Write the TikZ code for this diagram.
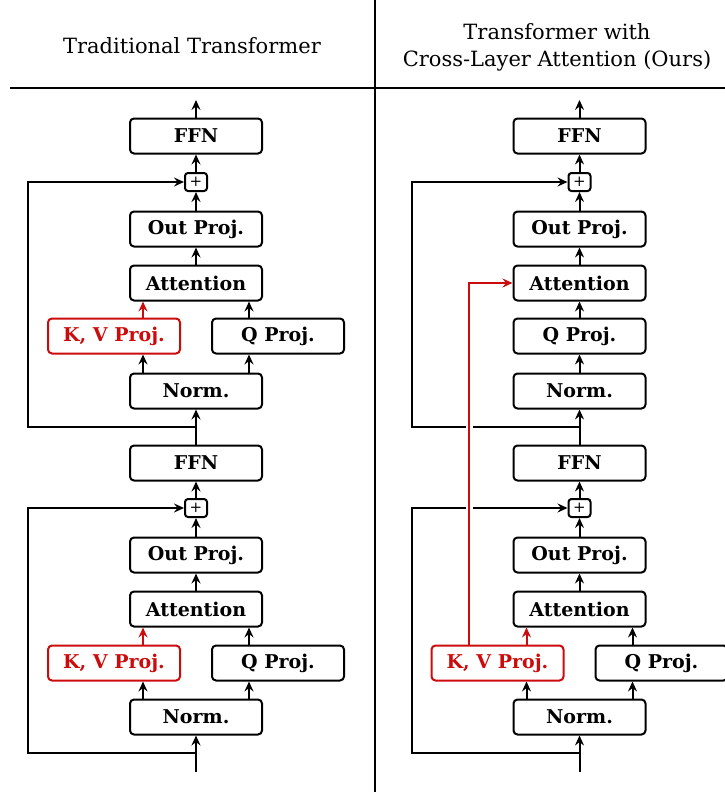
\documentclass[tikz,border=0pt]{standalone}
\usepackage{fontspec}
\setmainfont{DejaVu Serif}
\usetikzlibrary{arrows.meta,positioning,calc}
\definecolor{kvred}{RGB}{204,12,12}

\tikzset{
  blk/.style={draw, line width=2pt, rounded corners=4pt, minimum width=132pt,
    minimum height=35pt, inner sep=0pt, font=\fontsize{19}{20}\selectfont\bfseries},
  kvblk/.style={blk, draw=kvred, text=kvred},
  addbox/.style={draw, line width=2pt, rounded corners=3pt, minimum width=22pt,
    minimum height=18pt, inner sep=0pt, font=\fontsize{15}{15}\selectfont},
  flow/.style={line width=2pt, -{Stealth[length=10pt,width=9pt,inset=3.5pt]}},
  halo/.style={preaction={draw=white, line width=7pt, -, shorten <=3pt, shorten >=12pt}},
  title/.style={font=\fontsize{21}{27}\selectfont, align=center},
}

\begin{document}
\begin{tikzpicture}[x=1pt,y=-1pt]
\clip (0,0) rectangle (725,792);

% headers
\node[title] (headA) at (192,46) {Traditional Transformer};
\node[title] (headB) at (557,47) {Transformer with\\Cross-Layer Attention (Ours)};
\draw[line width=1.3pt] (375,0) -- (375,792);
\draw[line width=1.3pt] (10,88) -- (725,88);

%% left: traditional transformer
\node[blk] (ffnA) at (196,136) {FFN};
\node[addbox] (addA) at (196,182) {+};
\node[blk] (outA) at (196,229) {Out Proj.};
\node[blk] (attA) at (196,283) {Attention};
\node[kvblk] (kvA) at (114,336) {K, V Proj.};
\node[blk] (qA) at (278,336) {Q Proj.};
\node[blk] (normA) at (196,391) {Norm.};

\node[blk] (ffnB) at (196,463) {FFN};
\node[addbox] (addB) at (196,508) {+};
\node[blk] (outB) at (196,555) {Out Proj.};
\node[blk] (attB) at (196,609) {Attention};
\node[kvblk] (kvB) at (114,663) {K, V Proj.};
\node[blk] (qB) at (278,663) {Q Proj.};
\node[blk] (normB) at (196,717) {Norm.};

\coordinate (topA) at (196,100);
\coordinate (inA) at (196,772);
\coordinate (sideA) at (28,0);
\coordinate (lA) at ([xshift=-53pt]attA.south);
\coordinate (rA) at ([xshift=53pt]attA.south);
\coordinate (lB) at ([xshift=-53pt]attB.south);
\coordinate (rB) at ([xshift=53pt]attB.south);
\coordinate (jA) at ($(ffnB.north)!.5!(normA.south)$);
\coordinate (jB) at (196,753);

\draw[flow] (ffnA) -- (topA);
\draw[flow] (addA) -- (ffnA);
\draw[flow] (outA) -- (addA);
\draw[flow] (attA) -- (outA);
\draw[flow,kvred] (kvA.north -| lA) -- (lA);
\draw[flow] (qA.north -| rA) -- (rA);
\draw[flow] (normA.north -| lA) -- (kvA.south -| lA);
\draw[flow] (normA.north -| rA) -- (qA.south -| rA);
\draw[flow] (ffnB) -- (normA);
\draw[flow] (jA) -- (jA -| sideA) -- (addA.west -| sideA) -- (addA.west);

\draw[flow] (addB) -- (ffnB);
\draw[flow] (outB) -- (addB);
\draw[flow] (attB) -- (outB);
\draw[flow,kvred] (kvB.north -| lB) -- (lB);
\draw[flow] (qB.north -| rB) -- (rB);
\draw[flow] (normB.north -| lB) -- (kvB.south -| lB);
\draw[flow] (normB.north -| rB) -- (qB.south -| rB);
\draw[flow] (inA) -- (normB);
\draw[flow] (jB) -- (jB -| sideA) -- (addB.west -| sideA) -- (addB.west);

%% right: cross-layer attention
\node[blk] (ffnC) at (579.5,136) {FFN};
\node[addbox] (addC) at (579.5,182) {+};
\node[blk] (outC) at (579.5,229) {Out Proj.};
\node[blk] (attC) at (579.5,283) {Attention};
\node[blk] (qC) at (579.5,336) {Q Proj.};
\node[blk] (normC) at (579.5,391) {Norm.};

\node[blk] (ffnD) at (579.5,463) {FFN};
\node[addbox] (addD) at (579.5,508) {+};
\node[blk] (outD) at (579.5,555) {Out Proj.};
\node[blk] (attD) at (579.5,609) {Attention};
\node[kvblk] (kvD) at (497.5,663) {K, V Proj.};
\node[blk] (qD) at (661.5,663) {Q Proj.};
\node[blk] (normD) at (579.5,717) {Norm.};

\coordinate (topC) at (579.5,100);
\coordinate (inC) at (579.5,772);
\coordinate (sideC) at (411.5,0);
\coordinate (crossC) at (469,0);
\coordinate (lD) at ([xshift=-53pt]attD.south);
\coordinate (rD) at ([xshift=53pt]attD.south);
\coordinate (jC) at ($(ffnD.north)!.5!(normC.south)$);
\coordinate (jD) at (579.5,753);

\draw[flow] (ffnC) -- (topC);
\draw[flow] (addC) -- (ffnC);
\draw[flow] (outC) -- (addC);
\draw[flow] (attC) -- (outC);
\draw[flow] (qC) -- (attC);
\draw[flow] (normC) -- (qC);
\draw[flow] (ffnD) -- (normC);
\draw[flow] (jC) -- (jC -| sideC) -- (addC.west -| sideC) -- (addC.west);

\draw[flow] (addD) -- (ffnD);
\draw[flow] (outD) -- (addD);
\draw[flow] (attD) -- (outD);
\draw[flow,kvred] (kvD.north -| lD) -- (lD);
\draw[flow] (qD.north -| rD) -- (rD);
\draw[flow] (normD.north -| lD) -- (kvD.south -| lD);
\draw[flow] (normD.north -| rD) -- (qD.south -| rD);
\draw[flow] (inC) -- (normD);
\draw[flow] (jD) -- (jD -| sideC) -- (addD.west -| sideC) -- (addD.west);

% shared K, V reaches the upper layer
\draw[flow,kvred,halo] (kvD.north -| crossC) -- (attC.west -| crossC) -- (attC.west);
\end{tikzpicture}
\end{document}
